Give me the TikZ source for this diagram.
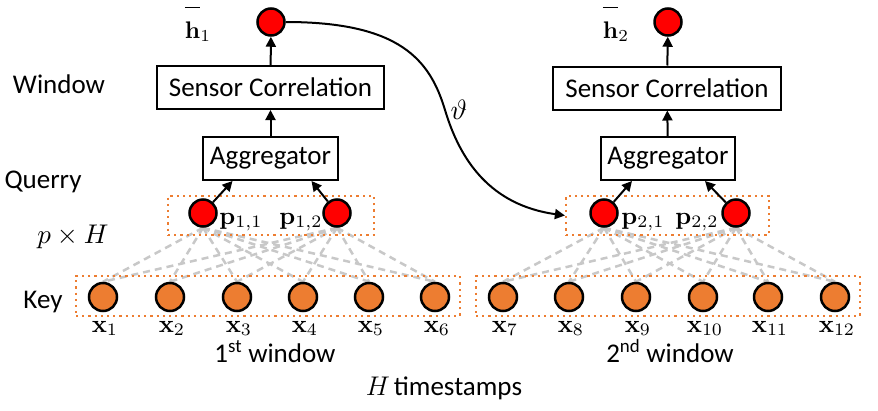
\RequirePackage{fix-cm}
\documentclass[tikz,border=0pt]{standalone}
\usepackage{amsmath}
\usepackage{graphicx}
\usepackage[no-math]{fontspec}
\setmainfont{Carlito}
\usetikzlibrary{arrows.meta,backgrounds}
\definecolor{myred}{RGB}{255,0,0}
\definecolor{myorange}{RGB}{237,125,49}
\definecolor{dgray}{RGB}{200,200,200}
\newcommand{\mymath}[2][2.5]{\scalebox{#1}{$#2$}}
\newcommand{\hbarlab}[1]{\mymath[2.4]{{\overline{\smash[b]{\mathbf{h}\vphantom{\Big|}}}}_{#1}}}
\begin{document}
\begin{tikzpicture}[x=1pt,y=-1pt,
 txt/.style={font=\fontsize{27}{31}\selectfont, inner sep=0pt, anchor=base},
 mlab/.style={inner sep=0pt, anchor=base},
 box/.style={draw, line width=2pt, minimum height=43pt, inner sep=0pt, font=\fontsize{27}{31}\selectfont},
 qnode/.style={circle, draw, fill=myred, line width=2.5pt, minimum size=27pt, inner sep=0pt},
 knode/.style={circle, draw, fill=myorange, line width=2.5pt, minimum size=28pt, inner sep=0pt},
 dotbox/.style={draw=myorange, line width=2.2pt, dash pattern=on 2.2pt off 4pt, inner sep=0pt},
 arr/.style={line width=2pt, -{Triangle[length=10pt,width=10pt]}},
 link/.style={draw=dgray, line width=2.5pt, dash pattern=on 7pt off 5pt},
]
\useasboundingbox (0,0) rectangle (878,410);

% side labels
\node[txt] (win) at (59,93) {Window};
\node[txt] (qry) at (43,188) {Querry};
\node[txt] (key) at (43,308) {Key};
\node[mlab] (pH) at (73,243) {\mymath[2.7]{p\times H}};

% dotted boxes
\node[dotbox, minimum width=206pt, minimum height=39pt] (q1) at (271,215.5) {};
\node[dotbox, minimum width=203pt, minimum height=39pt] (q2) at (667.5,215.5) {};
\node[dotbox, minimum width=384pt, minimum height=40pt] (kb1) at (268,296) {};
\node[dotbox, minimum width=384pt, minimum height=40pt] (kb2) at (668,296) {};

% boxes
\node[box, minimum width=227pt] (sc1) at (270.5,87.5) {Sensor Correlation};
\node[box, minimum width=228pt] (sc2) at (667,88) {Sensor Correlation};
\node[box, minimum width=135pt] (ag1) at (270.5,158.5) {Aggregator};
\node[box, minimum width=134pt] (ag2) at (668,158.5) {Aggregator};

% output nodes
\node[qnode] (h1) at (271,22) {};
\node[qnode] (h2) at (668,22) {};
\node[mlab] (h1l) at (198,38) {\hbarlab{1}};
\node[mlab] (h2l) at (616,38) {\hbarlab{2}};

% query nodes
\node[qnode] (p11) at (203,213) {};
\node[qnode] (p12) at (337,213) {};
\node[qnode] (p21) at (604,213) {};
\node[qnode] (p22) at (736,213) {};
\node[mlab] (p11l) at (241,224) {\mymath{\mathbf{p}_{1,1}}};
\node[mlab] (p12l) at (301,224) {\mymath{\mathbf{p}_{1,2}}};
\node[mlab] (p21l) at (643,224) {\mymath{\mathbf{p}_{2,1}}};
\node[mlab] (p22l) at (697,224) {\mymath{\mathbf{p}_{2,2}}};

% key nodes
\foreach \i/\x in {1/103,2/170,3/237,4/303,5/369,6/435,7/503,8/569,9/636,10/703,11/768,12/835} {
  \node[knode] (k\i) at (\x,297) {};
  \node[mlab] (xl\i) at (\x+2,332) {\mymath{\mathbf{x}_{\i}}};
}

% links
\begin{scope}[on background layer]
\foreach \p in {p11,p12} \foreach \k in {1,...,6} \draw[link] (\p.south) -- (k\k.north);
\foreach \p in {p21,p22} \foreach \k in {7,...,12} \draw[link] (\p.south) -- (k\k.north);
\end{scope}

% arrows
\draw[arr] (sc1) -- (h1);
\draw[arr] (sc2) -- (h2);
\draw[arr] (ag1) -- (sc1);
\draw[arr] (ag2) -- (sc2);
\draw[arr] (p11) -- ([xshift=-38pt]ag1.south);
\draw[arr] (p12) -- ([xshift=41pt]ag1.south);
\draw[arr] (p21) -- ([xshift=-36pt]ag2.south);
\draw[arr] (p22) -- ([xshift=37pt]ag2.south);
\coordinate (cmid) at (445,110);
\draw[arr] (h1.east) .. controls (400,22) and (430,60) .. (cmid)
  .. controls (460,160) and (490,205) .. (q2.west);

\node[mlab] (th) at (459,119) {\mymath[2.8]{\vartheta}};

% bottom labels
\node[txt] (w1) at (275,362) {1\textsuperscript{st} window};
\node[txt] (w2) at (670,362) {2\textsuperscript{nd} window};
\node[txt] (ht) at (444,395) {$H$\hspace{4pt}timestamps};
\end{tikzpicture}
\end{document}
